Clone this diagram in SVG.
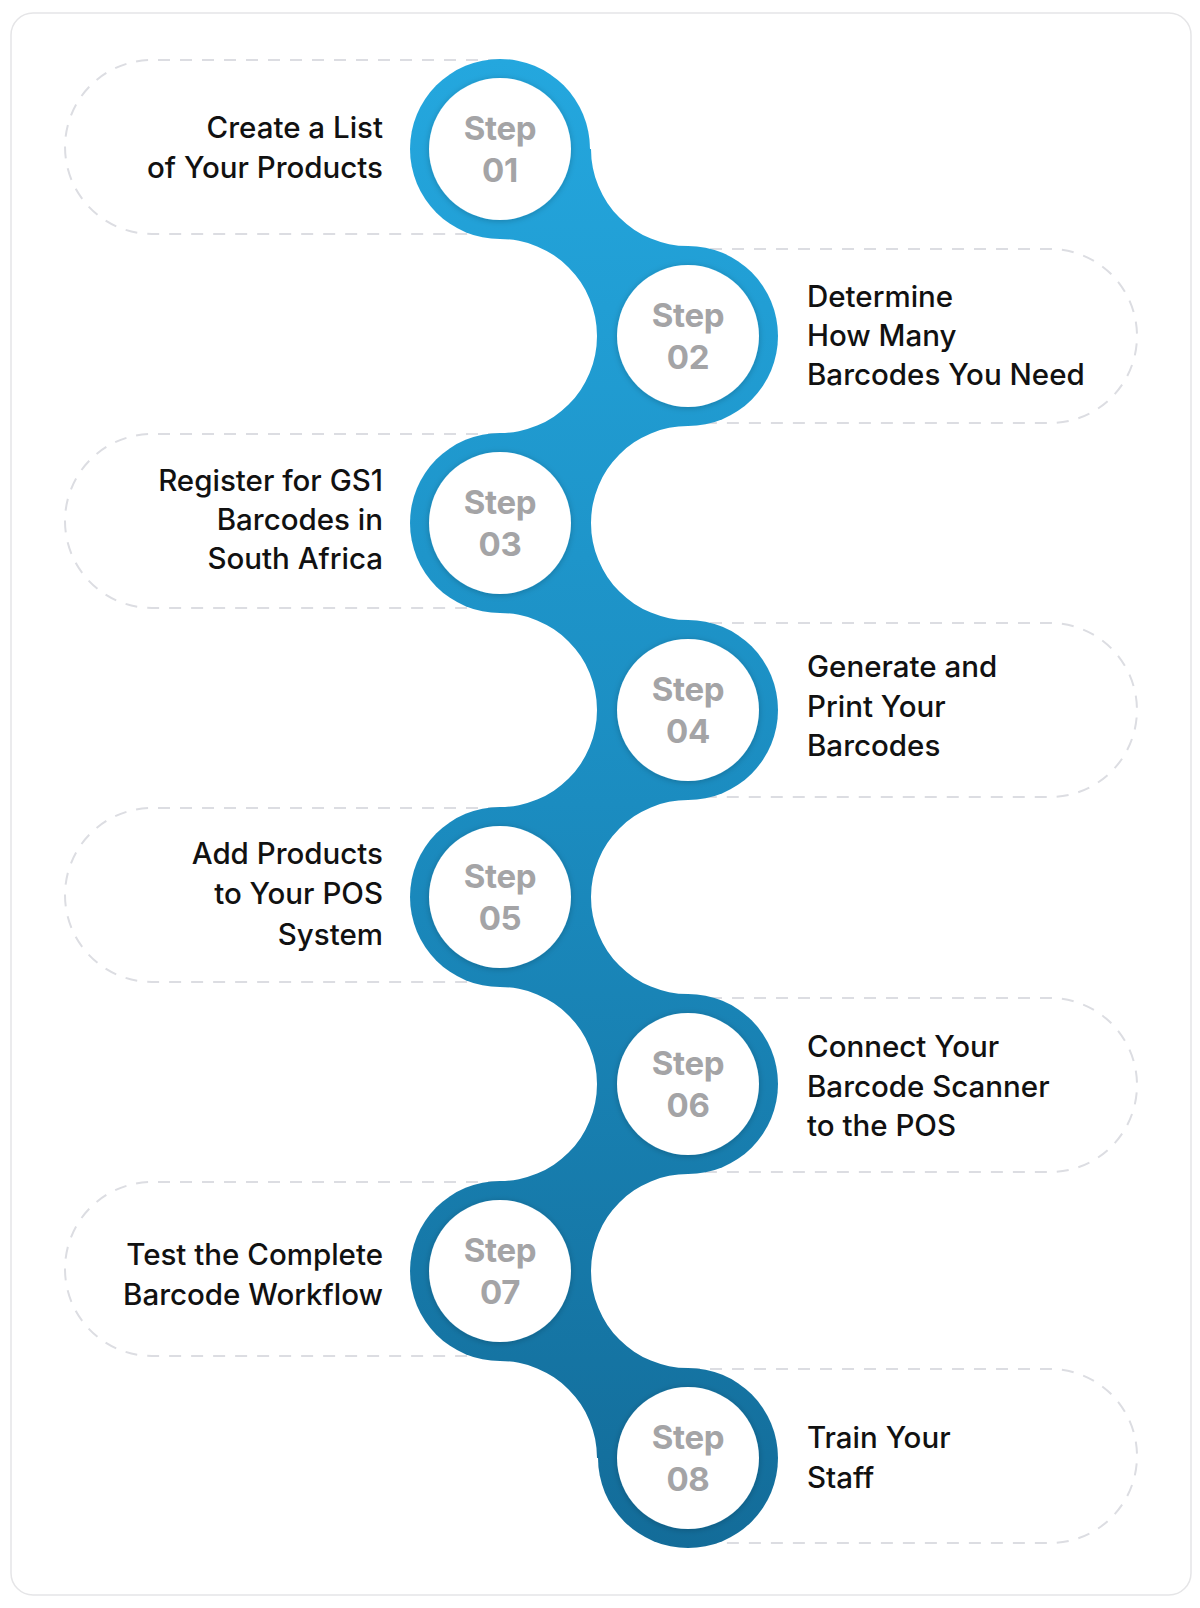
<svg xmlns="http://www.w3.org/2000/svg" width="1200" height="1608" viewBox="0 0 1200 1608">
<defs>
<linearGradient id="blue" gradientUnits="userSpaceOnUse" x1="0" y1="59" x2="0" y2="1549">
<stop offset="0" stop-color="#24a7de"/>
<stop offset="0.5" stop-color="#1b8cc0"/>
<stop offset="1" stop-color="#136c99"/>
</linearGradient>
<filter id="sh" x="-20%" y="-20%" width="140%" height="140%">
<feDropShadow dx="0" dy="1" stdDeviation="3" flood-color="#000" flood-opacity="0.22"/>
</filter>
<style>
.pill{fill:none;stroke:#dcdde2;stroke-width:2;stroke-dasharray:12 10}
.lbl{font-family:Inter,"Liberation Sans",sans-serif;font-size:29.5px;font-weight:500;fill:#111}
.l{text-anchor:end}
.step{font-family:Inter,"Liberation Sans",sans-serif;font-size:33px;font-weight:700;fill:#a4a4a6;text-anchor:middle;letter-spacing:-0.3px}
.inner{fill:#fff;filter:url(#sh)}
</style>
</defs>
<rect x="11" y="13" width="1180" height="1582" rx="22" fill="#fff" stroke="#e5e5e7" stroke-width="1.5"/>
<g id="pills">
<path class="pill" d="M500,60 H152 A87,87 0 0 0 152,234 H500"/>
<path class="pill" d="M688,249 H1050 A87,87 0 0 1 1050,423 H688"/>
<path class="pill" d="M500,434 H152 A87,87 0 0 0 152,608 H500"/>
<path class="pill" d="M688,623 H1050 A87,87 0 0 1 1050,797 H688"/>
<path class="pill" d="M500,808 H152 A87,87 0 0 0 152,982 H500"/>
<path class="pill" d="M688,998 H1050 A87,87 0 0 1 1050,1172 H688"/>
<path class="pill" d="M500,1182 H152 A87,87 0 0 0 152,1356 H500"/>
<path class="pill" d="M688,1369 H1050 A87,87 0 0 1 1050,1543 H688"/>
</g>
<g id="connectors" fill="url(#blue)">
<path d="M500,149 H591 A97,97 0 0 0 688,246 V336 H597 A97,97 0 0 0 500,239 Z"/>
<path d="M688,336 H597 A97,97 0 0 1 500,433 V523 H591 A97,97 0 0 1 688,426 Z"/>
<path d="M500,523 H591 A97,97 0 0 0 688,620 V710 H597 A97,97 0 0 0 500,613 Z"/>
<path d="M688,710 H597 A97,97 0 0 1 500,807 V897 H591 A97,97 0 0 1 688,800 Z"/>
<path d="M500,897 H591 A97,97 0 0 0 688,994 V1084 H597 A97,97 0 0 0 500,987 Z"/>
<path d="M688,1084 H597 A97,97 0 0 1 500,1181 V1271 H591 A97,97 0 0 1 688,1174 Z"/>
<path d="M500,1271 H591 A97,97 0 0 0 688,1368 V1458 H597 A97,97 0 0 0 500,1361 Z"/>
</g>
<g id="step1">
<circle cx="500" cy="149" r="90" fill="url(#blue)"/>
<circle class="inner" cx="500" cy="149" r="71"/>
<text class="step" x="500" y="140">Step</text>
<text class="step" x="500" y="182">01</text>
<text class="lbl l" x="383" y="138">Create a List</text>
<text class="lbl l" x="383" y="178">of Your Products</text>
</g>
<g id="step2">
<circle cx="688" cy="336" r="90" fill="url(#blue)"/>
<circle class="inner" cx="688" cy="336" r="71"/>
<text class="step" x="688" y="327">Step</text>
<text class="step" x="688" y="369">02</text>
<text class="lbl" x="807" y="307">Determine</text>
<text class="lbl" x="807" y="346">How Many</text>
<text class="lbl" x="807" y="385">Barcodes You Need</text>
</g>
<g id="step3">
<circle cx="500" cy="523" r="90" fill="url(#blue)"/>
<circle class="inner" cx="500" cy="523" r="71"/>
<text class="step" x="500" y="514">Step</text>
<text class="step" x="500" y="556">03</text>
<text class="lbl l" x="383" y="491">Register for GS1</text>
<text class="lbl l" x="383" y="530">Barcodes in</text>
<text class="lbl l" x="383" y="569">South Africa</text>
</g>
<g id="step4">
<circle cx="688" cy="710" r="90" fill="url(#blue)"/>
<circle class="inner" cx="688" cy="710" r="71"/>
<text class="step" x="688" y="701">Step</text>
<text class="step" x="688" y="743">04</text>
<text class="lbl" x="807" y="677">Generate and</text>
<text class="lbl" x="807" y="717">Print Your</text>
<text class="lbl" x="807" y="756">Barcodes</text>
</g>
<g id="step5">
<circle cx="500" cy="897" r="90" fill="url(#blue)"/>
<circle class="inner" cx="500" cy="897" r="71"/>
<text class="step" x="500" y="888">Step</text>
<text class="step" x="500" y="930">05</text>
<text class="lbl l" x="383" y="864">Add Products</text>
<text class="lbl l" x="383" y="904">to Your POS</text>
<text class="lbl l" x="383" y="945">System</text>
</g>
<g id="step6">
<circle cx="688" cy="1084" r="90" fill="url(#blue)"/>
<circle class="inner" cx="688" cy="1084" r="71"/>
<text class="step" x="688" y="1075">Step</text>
<text class="step" x="688" y="1117">06</text>
<text class="lbl" x="807" y="1057">Connect Your</text>
<text class="lbl" x="807" y="1097">Barcode Scanner</text>
<text class="lbl" x="807" y="1136">to the POS</text>
</g>
<g id="step7">
<circle cx="500" cy="1271" r="90" fill="url(#blue)"/>
<circle class="inner" cx="500" cy="1271" r="71"/>
<text class="step" x="500" y="1262">Step</text>
<text class="step" x="500" y="1304">07</text>
<text class="lbl l" x="383" y="1265">Test the Complete</text>
<text class="lbl l" x="383" y="1305">Barcode Workflow</text>
</g>
<g id="step8">
<circle cx="688" cy="1458" r="90" fill="url(#blue)"/>
<circle class="inner" cx="688" cy="1458" r="71"/>
<text class="step" x="688" y="1449">Step</text>
<text class="step" x="688" y="1491">08</text>
<text class="lbl" x="807" y="1448">Train Your</text>
<text class="lbl" x="807" y="1488">Staff</text>
</g>
</svg>
